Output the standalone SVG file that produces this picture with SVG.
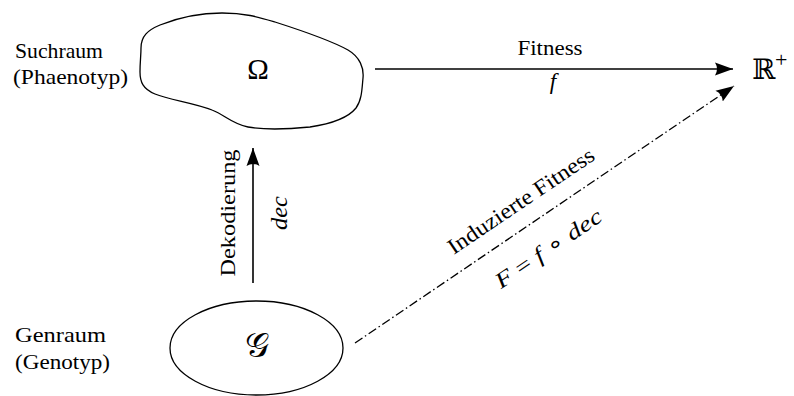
<svg xmlns="http://www.w3.org/2000/svg" width="794" height="396" viewBox="0 0 794 396">
<style>
  .t { font-family: "Liberation Serif", "Times New Roman", serif; font-size: 22px; fill: #000; }
  .m { font-family: "Liberation Serif", "Times New Roman", serif; font-style: italic; font-size: 23px; fill: #000; }
  .i { font-style: italic; }
  .shape { fill: none; stroke: #000; stroke-width: 1.3; }
  .conn { fill: none; stroke: #000; stroke-width: 1.6; }
  .dd { stroke-dasharray: 9 3 1.5 3; stroke-width: 1.3; }
</style>
<defs>
  <marker id="ah" viewBox="-18 -7 20 14" markerWidth="20" markerHeight="14" refX="0" refY="0" orient="auto" markerUnits="userSpaceOnUse">
    <path d="M0,0 L-18,-6.5 Q-14,0 -18,6.5 Z" fill="#000"/>
  </marker>
</defs>
<rect width="794" height="396" fill="#fff"/>

<g id="suchraum">
  <path class="shape" d="M141,48 C141,36 148,30 160,25 C180,17 200,13 222,13 C245,13 258,17 275,22 C300,30 330,40 348,50 C360,57 364,68 363,78 C362,88 362,100 356,108 C348,118 330,124 310,127 C290,129 265,130 248,127 C232,124 225,115 212,110 C195,103 170,100 155,94 C143,89 140,82 140,72 C140,62 141,55 141,48 Z"/>
  <text x="258" y="79" text-anchor="middle" font-family="Liberation Serif, serif" font-size="29">Ω</text>
  <text class="t" x="15" y="58" textLength="88" lengthAdjust="spacingAndGlyphs">Suchraum</text>
  <text class="t" x="13" y="84" textLength="115" lengthAdjust="spacingAndGlyphs">(Phaenotyp)</text>
</g>

<g id="genraum">
  <ellipse class="shape" cx="256.5" cy="348" rx="86.5" ry="47"/>
  <text x="257" y="357" text-anchor="middle" font-family="DejaVu Serif, serif" font-size="34">𝒢</text>
  <text class="t" x="15" y="342" textLength="91" lengthAdjust="spacingAndGlyphs">Genraum</text>
  <text class="t" x="15" y="369" textLength="95" lengthAdjust="spacingAndGlyphs">(Genotyp)</text>
</g>

<g id="reals">
  <text x="752" y="79" font-family="DejaVu Serif, serif" font-size="28">ℝ</text>
  <text x="775" y="67" font-family="Liberation Serif, serif" font-size="22">+</text>
</g>

<g id="connectors">
  <line class="conn" x1="375" y1="69" x2="733" y2="69" marker-end="url(#ah)"/>
  <line class="conn" x1="253" y1="283" x2="253" y2="148" marker-end="url(#ah)"/>
  <line class="conn dd" x1="355" y1="343" x2="734" y2="86" marker-end="url(#ah)"/>
</g>

<g id="labels">
  <text class="t" x="550" y="55" text-anchor="middle" textLength="65" lengthAdjust="spacingAndGlyphs">Fitness</text>
  <text class="m" x="553" y="89" text-anchor="middle" font-size="25">f</text>
  <text class="t" transform="translate(235,213) rotate(-90)" text-anchor="middle" textLength="127" lengthAdjust="spacingAndGlyphs">Dekodierung</text>
  <text class="m" transform="translate(287,213) rotate(-90)" text-anchor="middle" textLength="34" lengthAdjust="spacingAndGlyphs">dec</text>
  <text class="t" transform="translate(521,201) rotate(-34)" y="7" text-anchor="middle" textLength="172" lengthAdjust="spacingAndGlyphs">Induzierte Fitness</text>
  <text class="t" transform="translate(548,248) rotate(-34)" y="8" text-anchor="middle" font-size="25" textLength="124" lengthAdjust="spacingAndGlyphs"><tspan class="i">F</tspan> = <tspan class="i">f</tspan> ∘ <tspan class="i">dec</tspan></text>
</g>
</svg>
